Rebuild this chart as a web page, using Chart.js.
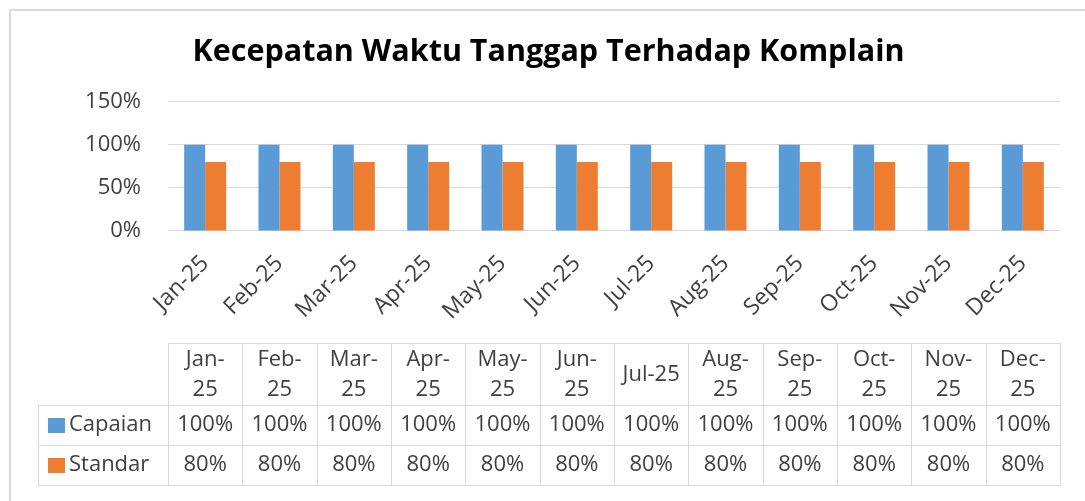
<!DOCTYPE html>
<html>
<head>
<meta charset="utf-8">
<script src="https://cdn.jsdelivr.net/npm/chart.js@4.4.1/dist/chart.umd.min.js"></script>
<style>
    body { margin: 0; background: #ffffff; }
    .wrap { position: relative; width: 1085px; height: 501px; overflow: hidden; }
    .frame {
        position: absolute; left: 9px; top: 9px; width: 1200px; height: 600px;
        border-left: 2px solid #d9d9d9; border-top: 2px solid #d9d9d9;
        pointer-events: none;
    }
</style>
</head>
<body>
<div class="wrap">
    <canvas id="chart" width="1085" height="501"></canvas>
    <div class="frame"></div>
</div>
<script>
// Chart data
const months = ['Jan-25', 'Feb-25', 'Mar-25', 'Apr-25', 'May-25', 'Jun-25',
                'Jul-25', 'Aug-25', 'Sep-25', 'Oct-25', 'Nov-25', 'Dec-25'];
const capaian = [100, 100, 100, 100, 100, 100, 100, 100, 100, 100, 100, 100];
const standar = [80, 80, 80, 80, 80, 80, 80, 80, 80, 80, 80, 80];
const yTicks = [0, 50, 100, 150];

const seriesNames = ['Capaian', 'Standar'];
const seriesColors = ['#5b9bd5', '#ed7d31'];
const textColor = '#404040';
const lineColor = '#d9d9d9';
const fontFamily = "'Open Sans', 'Noto Sans', sans-serif";

// Draws the data table under the axis, columns taken from the x scale
const dataTablePlugin = {
    id: 'dataTable',
    afterDraw(chart) {
        const ctx = chart.ctx;
        const xScale = chart.scales.x;
        const area = chart.chartArea;
        const colW = (area.right - area.left) / months.length;
        const top = Math.round(xScale.bottom);
        const headH = 62;
        const rowH = 40;
        const tableLeft = 38;
        const bottom = top + headH + rowH * 2;
        const px = v => Math.round(v) + 0.5;

        ctx.save();
        ctx.strokeStyle = lineColor;
        ctx.lineWidth = 1;
        ctx.beginPath();
        // horizontal lines
        ctx.moveTo(area.left, px(top)); ctx.lineTo(area.right, px(top));
        [top + headH, top + headH + rowH, bottom].forEach(y => {
            ctx.moveTo(tableLeft, px(y)); ctx.lineTo(area.right, px(y));
        });
        // vertical lines
        ctx.moveTo(px(tableLeft), top + headH); ctx.lineTo(px(tableLeft), bottom);
        for (let i = 0; i <= months.length; i++) {
            const x = i < months.length
                ? xScale.getPixelForValue(i) - colW / 2
                : xScale.getPixelForValue(i - 1) + colW / 2;
            ctx.moveTo(px(x), top); ctx.lineTo(px(x), bottom);
        }
        ctx.stroke();

        ctx.fillStyle = textColor;
        ctx.font = `22px ${fontFamily}`;
        ctx.textAlign = 'center';
        ctx.textBaseline = 'middle';

        // header cells, wrapped after the hyphen when too wide
        months.forEach((m, i) => {
            const cx = xScale.getPixelForValue(i);
            if (ctx.measureText(m).width > colW - 12) {
                const cut = m.indexOf('-') + 1;
                ctx.fillText(m.slice(0, cut), cx, top + 17);
                ctx.fillText(m.slice(cut), cx, top + 47);
            } else {
                ctx.fillText(m, cx, top + 32);
            }
        });

        // value rows
        [capaian, standar].forEach((values, r) => {
            const cy = top + headH + rowH * r + rowH / 2;
            values.forEach((v, i) => {
                ctx.fillText(v + '%', xScale.getPixelForValue(i), cy);
            });
            // legend key + series name
            ctx.fillStyle = seriesColors[r];
            ctx.fillRect(48, Math.round(cy - 7), 17, 15);
            ctx.fillStyle = textColor;
            ctx.textAlign = 'left';
            ctx.fillText(seriesNames[r], 69, cy);
            ctx.textAlign = 'center';
        });
        ctx.restore();
    }
};

const chart = new Chart(document.getElementById('chart'), {
    type: 'bar',
    data: {
        labels: months,
        datasets: [
            { label: seriesNames[0], data: capaian, backgroundColor: seriesColors[0] },
            { label: seriesNames[1], data: standar, backgroundColor: seriesColors[1] }
        ]
    },
    options: {
        responsive: false,
        devicePixelRatio: 1,
        animation: false,
        categoryPercentage: 0.565,
        barPercentage: 1.0,
        layout: {
            padding: { left: 37, right: 25, top: 0, bottom: 158 }
        },
        plugins: {
            legend: { display: false },
            tooltip: { enabled: false },
            title: {
                display: true,
                text: 'Kecepatan Waktu Tanggap Terhadap Komplain',
                color: '#000000',
                font: { family: fontFamily, size: 30.5, weight: 'bold' },
                padding: { top: 34, bottom: 31 }
            }
        },
        scales: {
            x: {
                grid: { display: false },
                border: { display: false },
                ticks: {
                    color: textColor,
                    font: { family: fontFamily, size: 23 },
                    minRotation: 45,
                    maxRotation: 45,
                    padding: 11,
                    autoSkip: false
                },
                afterFit(scale) { scale.height = 112; }
            },
            y: {
                min: yTicks[0],
                max: yTicks[yTicks.length - 1],
                afterBuildTicks(scale) {
                    scale.ticks = yTicks.map(v => ({ value: v }));
                },
                grid: { color: lineColor, drawTicks: false },
                border: { display: false },
                ticks: {
                    color: textColor,
                    font: { family: fontFamily, size: 22 },
                    padding: 27,
                    callback: v => v + '%'
                },
                afterFit(scale) { scale.width = 131; }
            }
        }
    },
    plugins: [dataTablePlugin]
});
</script>
</body>
</html>
